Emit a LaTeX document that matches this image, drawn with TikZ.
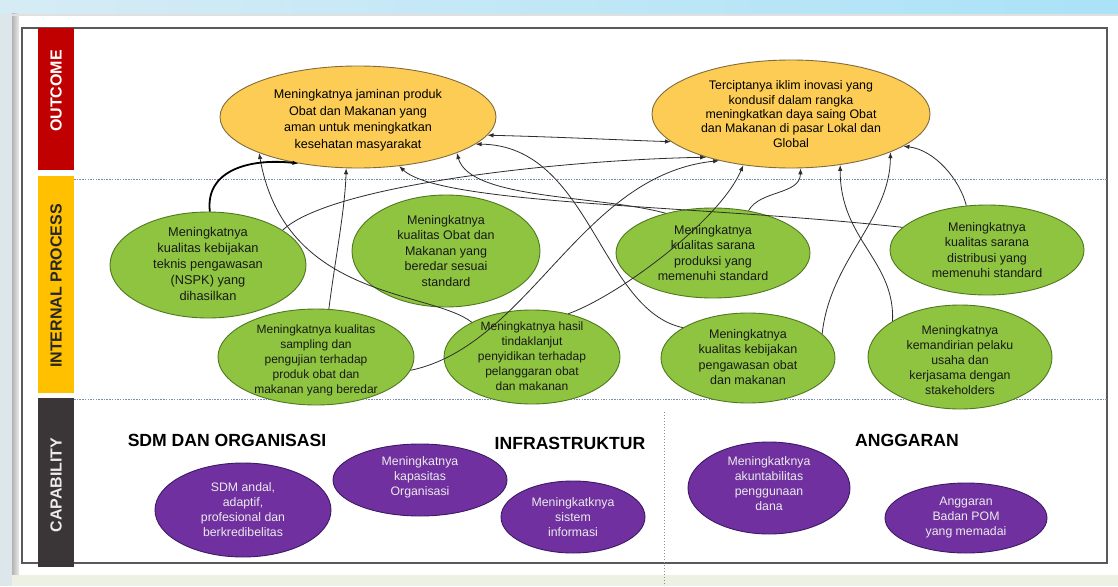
\documentclass[tikz,border=0pt]{standalone}
\usepackage{fontspec}
\setmainfont{Liberation Sans}
\usetikzlibrary{shapes.geometric,arrows.meta}
\definecolor{outfill}{RGB}{252,204,84}
\definecolor{outline}{RGB}{128,108,60}
\definecolor{procfill}{RGB}{142,196,64}
\definecolor{procline}{RGB}{80,120,32}
\definecolor{capfill}{RGB}{112,48,160}
\definecolor{capline}{RGB}{62,26,100}
\definecolor{linkc}{RGB}{45,45,45}
\definecolor{barred}{RGB}{192,0,0}
\definecolor{baryel}{RGB}{255,192,0}
\definecolor{bardark}{RGB}{58,53,54}
\definecolor{sepc}{RGB}{120,140,180}
\definecolor{topa}{RGB}{214,236,245}
\definecolor{topb}{RGB}{170,226,247}
\definecolor{sidec}{RGB}{221,230,234}
\definecolor{botc}{RGB}{236,241,228}
\begin{document}
\begin{tikzpicture}[x=1pt,y=-1pt,
  oval/.style={ellipse, draw, line width=0.9pt, inner sep=0pt},
  outc/.style={oval, fill=outfill, draw=outline},
  proc/.style={oval, fill=procfill, draw=procline},
  capa/.style={oval, fill=capfill, draw=capline},
  txt/.style={align=center, inner sep=0pt, text=black!90, font=\fontsize{12.5}{15.5}\selectfont},
  otxt/.style={align=center, inner sep=0pt, text=black, font=\fontsize{12.6}{16.5}\selectfont},
  ctxt/.style={align=center, inner sep=0pt, text=white!92!black, font=\fontsize{12.3}{15}\selectfont},
  head/.style={inner sep=0pt, font=\bfseries\fontsize{17.6}{17.6}\selectfont},
  barlbl/.style={rotate=90, inner sep=0pt, font=\bfseries\fontsize{16}{16}\selectfont},
  link/.style={draw=linkc, line width=0.8pt, -{Latex[length=6pt,width=4.5pt]}},
  dlink/.style={draw=linkc, line width=0.8pt, {Latex[length=6pt,width=4.5pt]}-{Latex[length=6pt,width=4.5pt]}},
  sepline/.style={draw=sepc, line width=0.9pt, dash pattern=on 1.5pt off 1.2pt},
]
\useasboundingbox (0,0) rectangle (1118,586);
% background
\fill[sidec] (0,0) rectangle (1118,586);
\shade[left color=topa, right color=topb] (0,0) rectangle (1118,14);
\fill[white] (12,14) rectangle (1118,575);
\shade[left color=black!30, right color=black!8] (12,14) rectangle (19,575);
\fill[black!12] (12,14) rectangle (1118,16);
\fill[botc] (12,575) rectangle (1118,586);
% frame
\draw[black!65, line width=1.3pt] (22,28) rectangle (1107,563);
% bars
\fill[barred] (38,28) rectangle (74,170);
\fill[baryel] (38,176) rectangle (74,393);
\fill[bardark] (38,398) rectangle (74,567);
\node[barlbl, text=white] (lo) at (56,91) {OUTCOME};
\node[barlbl, text=black!85] (li) at (56,286) {INTERNAL PROCESS};
\node[barlbl, text=white!92!black] (lc) at (56,485) {CAPABILITY};
% separators
\draw[sepline] (74,179) -- (1107,179);
\draw[sepline] (74,399) -- (1107,399);
\draw[draw=black!45, line width=0.8pt, dash pattern=on 1pt off 2pt] (664,412) -- (664,586);
% outcome ellipses
\node[outc, minimum width=276pt, minimum height=102pt] (o1) at (358,117) {};
\node[outc, minimum width=278pt, minimum height=108pt] (o2) at (791,114) {};
% internal process ellipses
\node[proc, minimum width=196pt, minimum height=106pt] (nspk) at (208,265) {};
\node[proc, minimum width=188pt, minimum height=112pt] (obat) at (446,251) {};
\node[proc, minimum width=194pt, minimum height=90pt] (prod) at (713,253) {};
\node[proc, minimum width=194pt, minimum height=90pt] (dist) at (987,250) {};
\node[proc, minimum width=196pt, minimum height=96pt] (samp) at (316,357) {};
\node[proc, minimum width=176pt, minimum height=94pt] (hasil) at (532,357) {};
\node[proc, minimum width=174pt, minimum height=90pt] (keb) at (748,358) {};
\node[proc, minimum width=184pt, minimum height=104pt] (kem) at (960,357) {};
% capability ellipses
\node[capa, minimum width=176pt, minimum height=94pt] (sdm) at (243,510) {};
\node[capa, minimum width=174pt, minimum height=72pt] (kap) at (420,480) {};
\node[capa, minimum width=144pt, minimum height=72pt] (sis) at (573,517) {};
\node[capa, minimum width=162pt, minimum height=92pt] (akun) at (769,488) {};
\node[capa, minimum width=162pt, minimum height=70pt] (angg) at (966,518) {};
% connectors to outcome 1
\draw[link] (hasil.150) .. controls (430,290) and (285,300) .. (o1.200);
\draw[link, draw=black, line width=1.8pt] (nspk.88) .. controls (205,170) and (250,158) .. (o1.218);
\draw[link] (samp.75) .. controls (335,260) and (345,210) .. (o1.257);
\draw[link] (dist.165) .. controls (700,205) and (440,205) .. (o1.310);
\draw[link] (prod.140) .. controls (600,195) and (470,200) .. (o1.340);
\draw[link] (keb.155) .. controls (600,310) and (590,145) .. (o1.347);
\draw[dlink] (o1.352) .. controls (560,137) and (620,140) .. (o2.193);
% connectors to outcome 2
\draw[link] (nspk.25) .. controls (330,185) and (560,160) .. (o2.207);
\draw[link] (samp.352) .. controls (530,345) and (580,175) .. (o2.213);
\draw[link] (hasil.50) .. controls (620,295) and (720,220) .. (o2.227);
\draw[link] (prod.50) .. controls (760,190) and (800,195) .. (o2.280);
\draw[link] (kem.152) .. controls (895,260) and (840,240) .. (o2.314);
\draw[link] (keb.18) .. controls (830,260) and (890,220) .. (o2.339);
\draw[link] (dist.115) .. controls (960,180) and (935,150) .. (o2.344);
% texts
\node[otxt] (to1) at (358,120) {Meningkatnya jaminan produk\\Obat dan Makanan yang\\aman untuk meningkatkan\\kesehatan masyarakat};
\node[otxt, font=\fontsize{12.4}{14.4}\selectfont] (to2) at (791,114) {Terciptanya iklim inovasi yang\\kondusif dalam rangka\\meningkatkan daya saing Obat\\dan Makanan di pasar Lokal dan\\Global};
\node[txt, font=\fontsize{12.8}{16}\selectfont] (tnspk) at (208,264) {Meningkatnya\\kualitas kebijakan\\teknis pengawasan\\(NSPK) yang\\dihasilkan};
\node[txt] (tobat) at (446,251) {Meningkatnya\\kualitas Obat dan\\Makanan yang\\beredar sesuai\\standard};
\node[txt] (tprod) at (713,253) {Meningkatnya\\kualitas sarana\\produksi yang\\memenuhi standard};
\node[txt] (tdist) at (987,250) {Meningkatnya\\kualitas sarana\\distribusi yang\\memenuhi standard};
\node[txt, font=\fontsize{12}{15}\selectfont] (tsamp) at (316,360) {Meningkatnya kualitas\\sampling dan\\pengujian terhadap\\produk obat dan\\makanan yang beredar};
\node[txt, font=\fontsize{12}{15}\selectfont] (thasil) at (532,356) {Meningkatnya hasil\\tindaklanjut\\penyidikan terhadap\\pelanggaran obat\\dan makanan};
\node[txt] (tkeb) at (748,357) {Meningkatnya\\kualitas kebijakan\\pengawasan obat\\dan makanan};
\node[txt, font=\fontsize{12.3}{15}\selectfont] (tkem) at (960,360) {Meningkatnya\\kemandirian pelaku\\usaha dan\\kerjasama dengan\\stakeholders};
\node[ctxt] (tsdm) at (243,510) {SDM andal,\\adaptif,\\profesional dan\\berkredibelitas};
\node[ctxt] (tkap) at (420,477) {Meningkatnya\\kapasitas\\Organisasi};
\node[ctxt] (tsis) at (573,517) {Meningkatknya\\sistem\\informasi};
\node[ctxt] (takun) at (769,484) {Meningkatknya\\akuntabilitas\\penggunaan\\dana};
\node[ctxt] (tangg) at (966,518) {Anggaran\\Badan POM\\yang memadai};
% headers
\node[head] (hsdm) at (227,440) {SDM DAN ORGANISASI};
\node[head] (hinf) at (570,443) {INFRASTRUKTUR};
\node[head] (hang) at (907,440) {ANGGARAN};
\end{tikzpicture}
\end{document}
